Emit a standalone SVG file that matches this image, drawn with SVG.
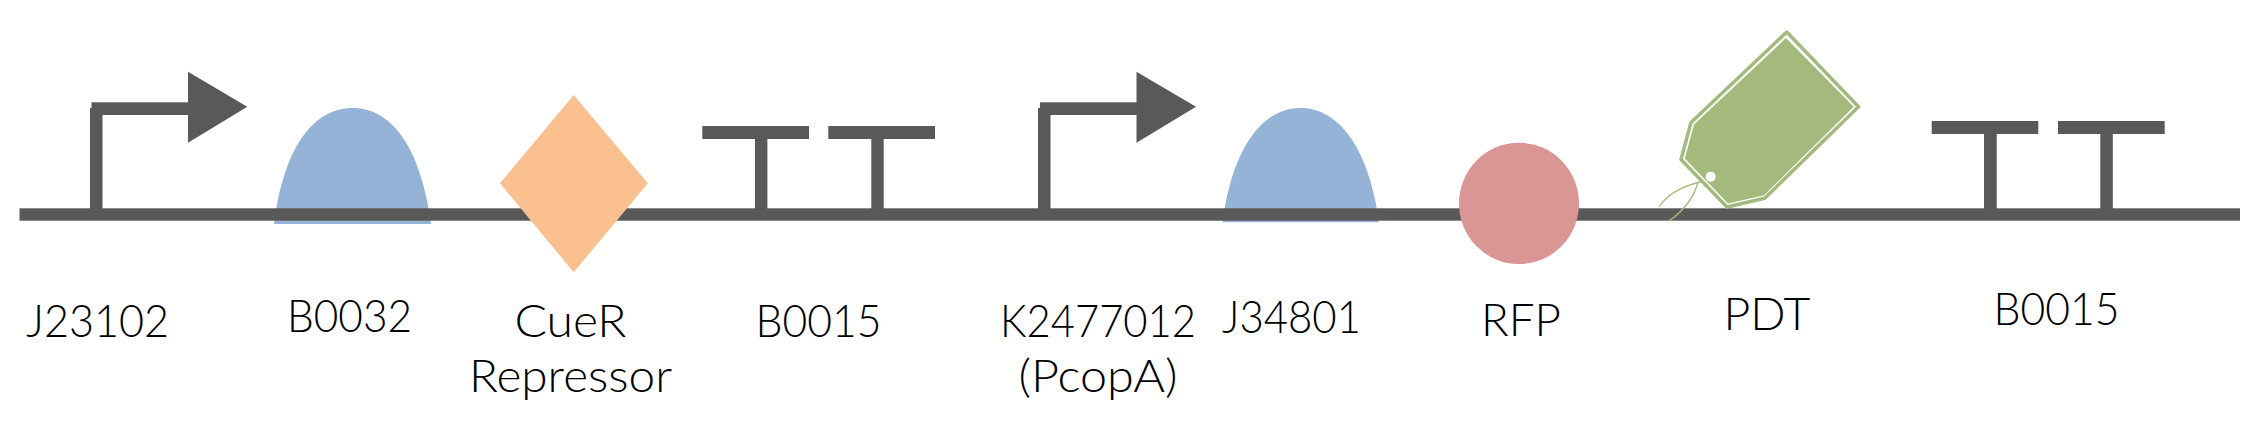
<svg xmlns="http://www.w3.org/2000/svg" width="2259" height="424" viewBox="0 0 2259 424">
<style>
.dna{fill:#595959}
.rbs{fill:#95b3d7}
.lbl{font-family:"Lato","Liberation Sans",sans-serif;font-weight:300;font-size:45px;fill:#000;text-anchor:start}
.tag{fill:#a4ba7d}
.tago{fill:#fff;stroke:#a4ba7d;stroke-width:3.500;stroke-linejoin:round}
.str{fill:none;stroke:#a4ba7d;stroke-width:1.300}
</style>
<rect width="2259" height="424" fill="#fff"/>
<g id="rbs1"><path class="rbs" d="M274 224C283 150 312 108 352.700 108C393 108 421 150 431 224Z"/></g>
<g id="rbs2"><path class="rbs" d="M1222.500 222.300C1232 150 1261 108 1300.500 108C1340 108 1369 150 1379 222.300Z"/></g>
<g id="connectors">
<rect id="backbone" class="dna" x="19.500" y="208.300" width="2220.500" height="12.400"/>
</g>
<g id="promoter1"><rect class="dna" x="90" y="108" width="12.500" height="101"/><rect class="dna" x="91.500" y="102.300" width="97" height="12.700"/><path class="dna" d="M188 71.700L247.300 106.700L188 142.700Z"/></g>
<g id="repressor"><path d="M573.700 95L647.800 183.300L573.700 272.300L500 183.300Z" fill="#fac090"/></g>
<g id="term1"><rect class="dna" x="702.300" y="126" width="106.700" height="13"/><rect class="dna" x="755" y="139" width="12.400" height="70"/><rect class="dna" x="828.300" y="126" width="106.700" height="13"/><rect class="dna" x="871.300" y="139" width="12.400" height="70"/></g>
<g id="promoter2"><rect class="dna" x="1038" y="108" width="12.500" height="101"/><rect class="dna" x="1040" y="102.300" width="97" height="12.700"/><path class="dna" d="M1136.500 71.700L1196 106.700L1136.500 142.700Z"/></g>
<g id="rfp"><ellipse cx="1519" cy="203.400" rx="60" ry="60.700" fill="#d99694"/></g>
<g id="pdt">
<path class="str" d="M1708 180C1690 184 1670 190 1659 207M1698 182C1695 195 1685 210 1669 221"/>
<path class="tago" d="M1786.700 32L1858.500 106.700L1764.700 198.300L1727 207L1681 159.500L1691 122.500Z"/>
<path class="tag" d="M1786 38L1853.700 106.700L1764 195.300L1728 203.500L1684.800 158.600L1694 124.500Z"/>
<circle cx="1710.700" cy="176.700" r="5" fill="#fff"/>
</g>
<g id="term2"><rect class="dna" x="1931.700" y="121" width="106.600" height="13"/><rect class="dna" x="1984" y="134" width="12.700" height="75"/><rect class="dna" x="2058" y="121" width="106.700" height="13"/><rect class="dna" x="2100.300" y="134" width="12.500" height="75"/></g>
<g id="labels">
<text class="lbl" x="26" y="336.700" textLength="143" lengthAdjust="spacingAndGlyphs">J23102</text>
<text class="lbl" x="287" y="331.700" textLength="125" lengthAdjust="spacingAndGlyphs">B0032</text>
<text class="lbl" x="514.500" y="337" textLength="112" lengthAdjust="spacingAndGlyphs">CueR</text>
<text class="lbl" x="469" y="391.700" textLength="203" lengthAdjust="spacingAndGlyphs">Repressor</text>
<text class="lbl" x="755.500" y="336.700" textLength="126" lengthAdjust="spacingAndGlyphs">B0015</text>
<text class="lbl" x="1000" y="337" textLength="196" lengthAdjust="spacingAndGlyphs">K2477012</text>
<text class="lbl" x="1018.500" y="391.700" textLength="159" lengthAdjust="spacingAndGlyphs">(PcopA)</text>
<text class="lbl" x="1222" y="333" textLength="139" lengthAdjust="spacingAndGlyphs">J34801</text>
<text class="lbl" x="1481" y="336" textLength="80" lengthAdjust="spacingAndGlyphs">RFP</text>
<text class="lbl" x="1723.500" y="329.500" textLength="87" lengthAdjust="spacingAndGlyphs">PDT</text>
<text class="lbl" x="1993.500" y="325" textLength="126" lengthAdjust="spacingAndGlyphs">B0015</text>
</g>
</svg>
